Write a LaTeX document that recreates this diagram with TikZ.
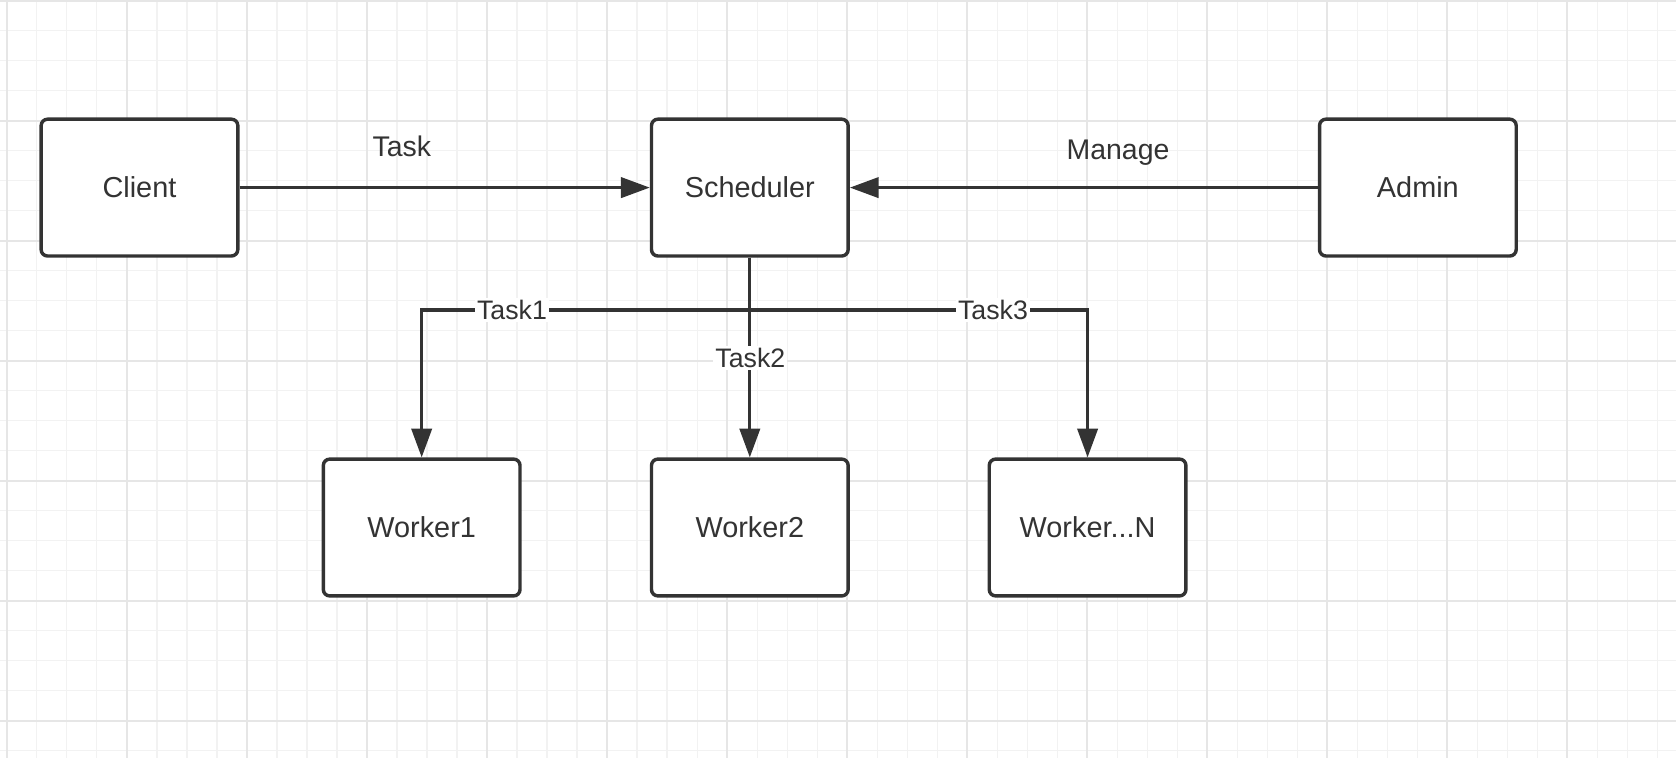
\documentclass[tikz,border=0pt]{standalone}
\usepackage{fontspec}
\setmainfont{Liberation Sans}
\usetikzlibrary{arrows.meta}
\definecolor{ink}{HTML}{333333}
\definecolor{gminor}{HTML}{F2F2F2}
\definecolor{gmajor}{HTML}{E6E6E6}
\tikzset{
  minorline/.style={draw=gminor, line width=0.5pt},
  majorline/.style={draw=gmajor, line width=0.9pt},
  boxnode/.style={draw=ink, line width=1.6pt, rounded corners=3pt, fill=white,
    minimum width=92pt, minimum height=64pt, inner sep=0pt, text=ink,
    font=\fontsize{13.5}{16}\selectfont},
  arr/.style={draw=ink, line width=1.5pt, -{Triangle[length=13.5pt,width=9.5pt]}},
  elabel/.style={fill=white, inner sep=1pt, text=ink, font=\fontsize{12.5}{14}\selectfont},
  tlabel/.style={inner sep=0pt, text=ink, font=\fontsize{13.3}{15}\selectfont}
}
\begin{document}
\begin{tikzpicture}[x=0.5pt,y=-0.5pt]
\fill[white] (0,0) rectangle (1568,709);
\useasboundingbox (0,0) rectangle (1568,709);
% grid
\foreach \i in {0,...,55} {
  \pgfmathsetmacro\xx{6.5+28.07*\i}
  \draw[minorline] (\xx,0) -- (\xx,709);
}
\foreach \i in {0,...,25} {
  \pgfmathsetmacro\yy{0.6+28.07*\i}
  \draw[minorline] (0,\yy) -- (1568,\yy);
}
\foreach \i in {0,...,13} {
  \pgfmathsetmacro\xx{6.5+112.28*\i}
  \draw[majorline] (\xx,0) -- (\xx,709);
}
\foreach \i in {0,...,6} {
  \pgfmathsetmacro\yy{0.6+112.28*\i}
  \draw[majorline] (0,\yy) -- (1568,\yy);
}
% nodes
\node[boxnode] (client) at (130.5,175.5) {Client};
\node[boxnode] (sched)  at (701.5,175.5) {Scheduler};
\node[boxnode] (admin)  at (1326.5,175.5) {Admin};
\node[boxnode] (w1) at (394.5,493.5) {Worker1};
\node[boxnode] (w2) at (701.5,493.5) {Worker2};
\node[boxnode] (wn) at (1017.5,493.5) {Worker...N};
\coordinate (split) at (701.5,290);
% connectors
\draw[arr] (client) -- (sched);
\draw[arr] (admin) -- (sched);
\draw[arr] (sched.south) -- (split) -| (w1.north);
\draw[arr] (sched) -- (w2);
\draw[arr] (split) -| (wn.north);
% labels
\node[tlabel] (ltask) at (376,137) {Task};
\node[tlabel] (lmanage) at (1046,143) {Manage};
\node[elabel] (lt1) at (479,290) {Task1};
\node[elabel] (lt2) at (702,335) {Task2};
\node[elabel] (lt3) at (929,290) {Task3};
\end{tikzpicture}
\end{document}
